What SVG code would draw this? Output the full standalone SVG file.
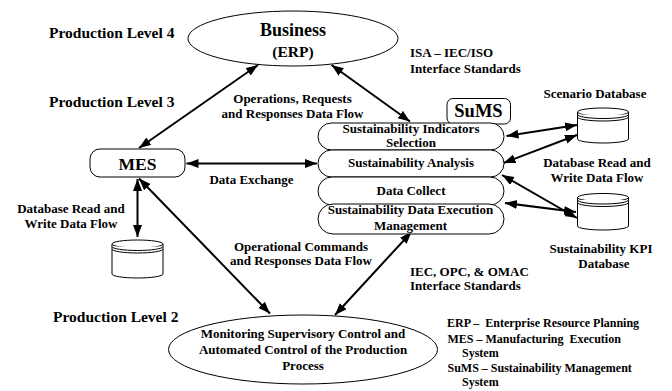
<svg xmlns="http://www.w3.org/2000/svg" width="672" height="391" viewBox="0 0 672 391">
<defs>
<marker id="ah" markerUnits="userSpaceOnUse" markerWidth="13" markerHeight="10" refX="12" refY="4.5" orient="auto-start-reverse">
<path d="M0,0 L12,4.5 L0,9 z" fill="#000"/>
</marker>
<style>
text{font-family:"Liberation Serif","Times New Roman",serif;font-weight:bold;fill:#000;font-size:13px}
.c{text-anchor:middle}
.lvl{font-size:15.5px}
.lg{font-size:12px}
.shape{fill:#fff;stroke:#000;stroke-width:1}
.arr{fill:none;stroke:#000;stroke-width:2;marker-start:url(#ah);marker-end:url(#ah)}
.cyl{fill:#fff;stroke:#000;stroke-width:1}
</style>
</defs>
<rect width="672" height="391" fill="#fff"/>

<g id="labels">
<text class="lvl" x="49" y="38">Production Level 4</text>
<text class="lvl" x="49" y="106.5">Production Level 3</text>
<text class="lvl" x="53" y="321.5">Production Level 2</text>
<text class="c" x="292.5" y="103">Operations, Requests</text>
<text class="c" x="292.5" y="117.5">and Responses Data Flow</text>
<text x="410" y="57">ISA – IEC/ISO</text>
<text x="410" y="73">Interface Standards</text>
<text class="c" x="251.5" y="183.5">Data Exchange</text>
<text class="c" x="71" y="213">Database Read and</text>
<text class="c" x="71" y="228">Write Data Flow</text>
<text class="c" x="301" y="250.5">Operational Commands</text>
<text class="c" x="301" y="265">and Responses Data Flow</text>
<text x="410" y="276">IEC, OPC, &amp;  OMAC</text>
<text x="410" y="290">Interface Standards</text>
<text class="c" x="595" y="98">Scenario Database</text>
<text class="c" x="597" y="167">Database Read and</text>
<text class="c" x="597" y="181.5">Write Data Flow</text>
<text class="c" x="601" y="252.5">Sustainability KPI</text>
<text class="c" x="604" y="268">Database</text>
<text class="lg" x="447" y="326.5" xml:space="preserve">ERP –  Enterprise Resource Planning</text>
<text class="lg" x="447.5" y="343" xml:space="preserve">MES – Manufacturing  Execution</text>
<text class="lg" x="462" y="357">System</text>
<text class="lg" x="447.5" y="371.5">SuMS – Sustainability Management</text>
<text class="lg" x="462" y="385.5">System</text>
</g>

<g id="connectors">
<line class="arr" x1="258" y1="65" x2="139" y2="148"/>
<line class="arr" x1="331.5" y1="65" x2="410" y2="121.5"/>
<line class="arr" x1="186.5" y1="163.5" x2="317" y2="163.5"/>
<line class="arr" x1="137.5" y1="179" x2="137.5" y2="237"/>
<line class="arr" x1="139" y1="178.5" x2="270" y2="313.5"/>
<line class="arr" x1="335" y1="315" x2="411.5" y2="232"/>
<line class="arr" x1="506.5" y1="136" x2="577" y2="125"/>
<line class="arr" x1="503.5" y1="163" x2="577" y2="135"/>
<line class="arr" x1="502" y1="175" x2="577" y2="218"/>
<line class="arr" x1="505" y1="203" x2="576" y2="212"/>
</g>

<g id="business">
<ellipse class="shape" cx="293" cy="38.5" rx="105" ry="27.5"/>
<text class="c" x="293" y="36" style="font-size:18px">Business</text>
<text class="c" x="293" y="57" style="font-size:15.5px">(ERP)</text>
</g>

<g id="mes">
<rect class="shape" x="90" y="149" width="95" height="28" rx="10"/>
<text class="c" x="137.5" y="170" style="font-size:17.5px">MES</text>
</g>

<g id="mes-db">
<path class="cyl" d="M112,244 V274 A25.5,4 0 0 0 163,274 V244"/>
<ellipse class="cyl" cx="137.5" cy="244" rx="25.5" ry="4"/>
<path class="cyl" fill="none" d="M112,246.5 A25.5,4 0 0 0 163,246.5 M112,249 A25.5,4 0 0 0 163,249"/>
</g>

<g id="sums">
<rect class="shape" x="447" y="98.5" width="63.5" height="25.5" rx="6"/>
<text class="c" x="478.5" y="116.5" style="font-size:18.5px">SuMS</text>
</g>

<g id="indicators">
<rect class="shape" x="318" y="123" width="186" height="27" rx="13.5"/>
<text class="c" x="411" y="132.7">Sustainability Indicators</text>
<text class="c" x="411" y="146.7">Selection</text>
</g>
<g id="analysis">
<rect class="shape" x="318" y="150" width="186" height="27" rx="13.5"/>
<text class="c" x="411" y="167">Sustainability Analysis</text>
</g>
<g id="collect">
<rect class="shape" x="318" y="177" width="186" height="28" rx="14"/>
<text class="c" x="411" y="195">Data Collect</text>
</g>
<g id="execution">
<rect class="shape" x="318" y="204" width="186" height="30" rx="15"/>
<text class="c" x="410.5" y="214">Sustainability Data Execution</text>
<text class="c" x="410.5" y="230">Management</text>
</g>

<g id="scenario-db">
<path class="cyl" d="M577.5,112 V139 A25.5,4 0 0 0 628.5,139 V112"/>
<ellipse class="cyl" cx="603" cy="112" rx="25.5" ry="4"/>
<path class="cyl" fill="none" d="M577.5,114.5 A25.5,4 0 0 0 628.5,114.5 M577.5,117 A25.5,4 0 0 0 628.5,117"/>
</g>

<g id="kpi-db">
<path class="cyl" d="M577.5,197.5 V226 A25.5,4 0 0 0 628.5,226 V197.5"/>
<ellipse class="cyl" cx="603" cy="197.5" rx="25.5" ry="4"/>
<path class="cyl" fill="none" d="M577.5,200 A25.5,4 0 0 0 628.5,200 M577.5,202.5 A25.5,4 0 0 0 628.5,202.5"/>
</g>

<g id="monitoring">
<ellipse class="shape" cx="303" cy="349.5" rx="134.5" ry="34.5"/>
<text class="c" x="303" y="338">Monitoring Supervisory Control and</text>
<text class="c" x="303" y="354">Automated Control of the Production</text>
<text class="c" x="303" y="370">Process</text>
</g>
</svg>
